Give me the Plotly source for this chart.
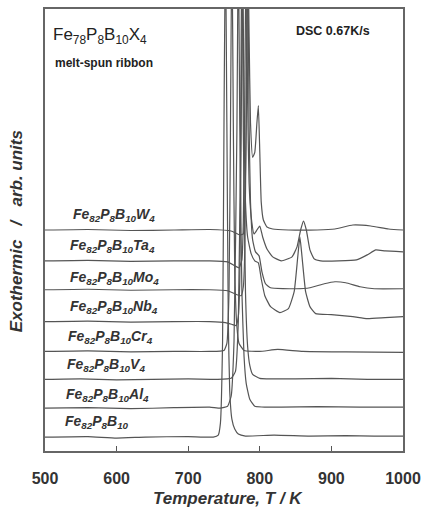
import plotly.graph_objects as go

# ---------------- data (temperature in K, signal in arb. units incl. offset) ----------------
labels = ["Fe<sub>82</sub>P<sub>8</sub>B<sub>10</sub>W<sub>4</sub>",
          "Fe<sub>82</sub>P<sub>8</sub>B<sub>10</sub>Ta<sub>4</sub>",
          "Fe<sub>82</sub>P<sub>8</sub>B<sub>10</sub>Mo<sub>4</sub>",
          "Fe<sub>82</sub>P<sub>8</sub>B<sub>10</sub>Nb<sub>4</sub>",
          "Fe<sub>82</sub>P<sub>8</sub>B<sub>10</sub>Cr<sub>4</sub>",
          "Fe<sub>82</sub>P<sub>8</sub>B<sub>10</sub>V<sub>4</sub>",
          "Fe<sub>82</sub>P<sub>8</sub>B<sub>10</sub>Al<sub>4</sub>",
          "Fe<sub>82</sub>P<sub>8</sub>B<sub>10</sub>"]

T_W = [500, 560, 620, 680, 730, 760, 772, 777, 779, 781, 783, 785, 787, 790, 793, 796, 798, 800, 802, 805, 810, 818, 840, 880, 905, 930, 955, 980, 1000]
y_W = [222, 222.5, 221.5, 222, 222.5, 221, 217, 218, 240, 330, 520, 420, 330, 295, 300, 330, 347, 300, 250, 232, 225, 223, 222, 222, 223, 227, 226, 223, 222]

T_Ta = [500, 560, 620, 680, 730, 755, 765, 771, 775, 777, 779, 781, 783, 785, 788, 792, 796, 800, 804, 810, 818, 830, 845, 852, 857, 861, 865, 870, 876, 885, 910, 935, 950, 962, 975, 1000]
y_Ta = [191, 191.5, 190.5, 191, 191, 190, 186, 184, 192, 230, 350, 520, 350, 270, 235, 218, 222, 226, 215, 203, 195, 191, 195, 205, 222, 231, 222, 202, 193, 191, 191, 192, 197, 202, 201, 200]

T_Mo = [500, 560, 620, 680, 730, 755, 768, 774, 777, 779, 781, 783, 785, 787, 790, 794, 799, 803, 808, 815, 850, 870, 890, 905, 920, 940, 960, 1000]
y_Mo = [162, 162.5, 161.5, 162, 162, 161, 157, 156, 165, 200, 330, 520, 330, 250, 212, 200, 196, 180, 168, 164, 163, 164, 168, 170, 169, 165, 163, 163]

T_Nb = [500, 560, 620, 680, 730, 752, 762, 767, 770, 772, 774, 776, 778, 780, 783, 788, 793, 798, 802, 807, 815, 828, 840, 848, 853, 856, 859, 864, 870, 878, 900, 930, 950, 975, 1000]
y_Nb = [130, 130.5, 129.5, 130, 130, 129, 127, 126, 135, 170, 320, 520, 330, 250, 215, 198, 191, 189, 173, 156, 145, 139, 143, 160, 195, 215, 195, 160, 145, 138, 137, 135, 133, 134, 135]

T_Cr = [500, 560, 620, 680, 730, 750, 754, 757, 759, 761, 763, 765, 768, 771, 778, 800, 825, 860, 920, 1000]
y_Cr = [100, 100.5, 99.5, 100, 100, 101, 108, 160, 320, 520, 330, 180, 125, 108, 101, 100, 102, 100, 99.5, 99]

T_V = [500, 550, 600, 650, 700, 740, 760, 766, 770, 773, 775, 777, 780, 783, 786, 790, 800, 850, 900, 950, 1000]
y_V = [72, 72.5, 71.5, 72, 72.5, 72, 73, 80, 130, 300, 520, 320, 160, 105, 86, 77, 73, 72.5, 73, 72, 72]

T_Al = [500, 560, 620, 680, 730, 745, 755, 760, 764, 768, 770, 772, 775, 778, 781, 786, 793, 830, 880, 940, 1000]
y_Al = [43, 43.5, 42.5, 43.5, 44, 43, 45, 55, 110, 320, 520, 330, 160, 95, 68, 52, 45, 44, 44.5, 44, 44]

T_base = [500, 560, 600, 640, 700, 735, 742, 745, 748, 750, 752, 754, 756, 758, 761, 765, 770, 780, 820, 870, 920, 960, 1000]
y_base = [14, 14.5, 13, 14, 14.5, 14, 16, 28, 110, 330, 520, 330, 130, 60, 32, 22, 17, 15, 16, 15, 15.5, 15, 15]

curves = [(T_W, y_W), (T_Ta, y_Ta), (T_Mo, y_Mo), (T_Nb, y_Nb),
          (T_Cr, y_Cr), (T_V, y_V), (T_Al, y_Al), (T_base, y_base)]

x_ticks = [500, 600, 700, 800, 900, 1000]

# ---------------- layout geometry ----------------
W, H = 428, 511
L, R, T, B = 45, 22, 7, 60
PW, PH = W - L - R, H - T - B

def px(x):
    return (x - L) / PW

def py(y):
    return (H - B - y) / PH

fig = go.Figure()
for (tx, ty) in curves:
    fig.add_trace(go.Scatter(x=tx, y=ty, mode="lines",
                             line=dict(color="#555555", width=1.2, shape="spline", smoothing=0.4),
                             showlegend=False, hoverinfo="skip"))

font_family = "Liberation Sans, Arial, sans-serif"
label_py = [214, 245, 277, 306, 336, 365, 395, 422]
label_px = [71, 68, 68, 68, 66, 65, 64, 63]
ann = []
for lab, lx, ly in zip(labels, label_px, label_py):
    ann.append(dict(text="<b><i>" + lab + "</i></b>", x=px(lx), y=py(ly), xref="paper", yref="paper",
                    xanchor="left", yanchor="middle", showarrow=False,
                    font=dict(family=font_family, size=14, color="#333333")))

ann.append(dict(text="Fe<sub>78</sub>P<sub>8</sub>B<sub>10</sub>X<sub>4</sub>", x=px(51), y=py(34),
                xref="paper", yref="paper", xanchor="left", yanchor="middle", showarrow=False,
                font=dict(family=font_family, size=17, color="#222222")))
ann.append(dict(text="<b>melt-spun ribbon</b>", x=px(53), y=py(61),
                xref="paper", yref="paper", xanchor="left", yanchor="middle", showarrow=False,
                font=dict(family=font_family, size=12, color="#222222")))
ann.append(dict(text="<b>DSC 0.67K/s</b>", x=px(296), y=py(29),
                xref="paper", yref="paper", xanchor="left", yanchor="middle", showarrow=False,
                font=dict(family=font_family, size=12.5, color="#222222")))
ann.append(dict(text="<b><i>Exothermic   /   arb. units</i></b>", x=px(17), y=py(230),
                xref="paper", yref="paper", xanchor="center", yanchor="middle", showarrow=False,
                textangle=-90, font=dict(family=font_family, size=17, color="#333333")))
ann.append(dict(text="<b><i>Temperature, T / K</i></b>", x=px(230), y=py(499),
                xref="paper", yref="paper", xanchor="center", yanchor="middle", showarrow=False,
                font=dict(family=font_family, size=17, color="#333333")))

fig.update_layout(
    width=W, height=H,
    margin=dict(l=L, r=R, t=T, b=B),
    paper_bgcolor="white", plot_bgcolor="white",
    annotations=ann,
    xaxis=dict(range=[500, 1000], tickvals=x_ticks, ticktext=["<b>%d</b>" % v for v in x_ticks],
               ticks="inside", ticklen=5, tickwidth=1.2, tickcolor="#555555",
               ticklabelstandoff=12,
               showline=True, linecolor="#666666", linewidth=1.5, mirror=True,
               showgrid=False, zeroline=False,
               tickfont=dict(family=font_family, size=16, color="#333333")),
    yaxis=dict(range=[0, 444], showticklabels=False, ticks="",
               showline=True, linecolor="#666666", linewidth=1.5, mirror=True,
               showgrid=False, zeroline=False),
)

fig.write_html("out.html")
